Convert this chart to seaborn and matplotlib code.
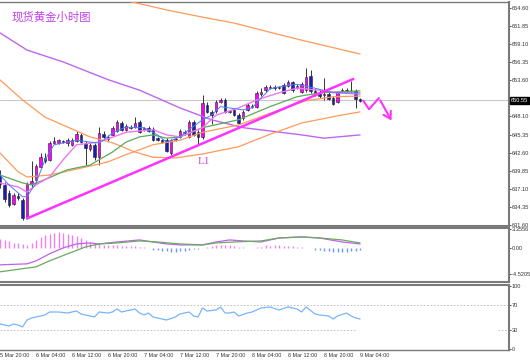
import numpy as np
import matplotlib
matplotlib.use("Agg")
import matplotlib.pyplot as plt
import matplotlib.transforms as mtransforms
import seaborn as sns

sns.set_style("white")
plt.rcParams['font.family'] = ['Noto Sans CJK SC', 'DejaVu Sans']

# hourly bars, 5 Mar 20:00 .. 9 Mar 04:00 (bar 0 .. 80)
opens = [639.1, 637.7, 636.5, 634.8, 636.0, 635.4, 632.7, 637.9, 638.5, 640.4,
         641.8, 641.5, 644.1, 644.1, 644.4, 644.0, 643.8, 644.4, 645.3, 644.1,
         643.2, 643.8, 641.9, 645.4, 645.0, 645.3, 645.9, 647.1, 646.1, 646.4,
         646.5, 647.3, 646.1, 646.4, 646.2, 644.8, 644.5, 644.5, 642.6, 644.5,
         645.0, 645.8, 645.0, 647.3, 645.8, 645.0, 649.9, 648.8, 648.9, 650.3,
         650.6, 648.8, 649.1, 648.3, 647.9, 649.1, 649.5, 649.5, 651.5, 652.1,
         652.4, 652.6, 652.4, 652.9, 652.7, 653.4, 652.4, 651.8, 652.1, 654.3,
         652.0, 651.5, 651.4, 651.5, 650.9, 650.3, 652.0, 652.1, 652.1, 652.0,
         650.8]
closes = [637.9, 635.6, 634.7, 636.2, 635.7, 632.7, 637.8, 638.3, 640.6, 641.9,
          641.3, 644.1, 644.4, 644.5, 644.2, 644.5, 644.5, 645.4, 644.2, 643.3,
          643.8, 641.9, 645.6, 645.0, 644.7, 646.4, 647.3, 646.1, 646.7, 646.5,
          647.1, 645.8, 646.4, 645.9, 644.5, 644.5, 644.2, 642.9, 644.5, 644.7,
          645.9, 645.6, 647.3, 645.3, 645.0, 650.2, 648.8, 648.3, 650.3, 650.6,
          648.8, 649.0, 648.3, 647.1, 648.8, 649.9, 649.7, 651.7, 651.8, 652.6,
          652.6, 652.4, 652.6, 651.7, 653.4, 652.1, 652.8, 653.0, 654.1, 652.0,
          651.5, 651.2, 651.5, 650.8, 650.0, 651.8, 652.1, 652.0, 652.1, 650.8,
          650.5]
highs = [640.0, 638.2, 636.9, 636.5, 636.5, 635.7, 638.1, 641.3, 640.9, 642.5,
         642.5, 644.4, 645.0, 644.7, 644.5, 644.8, 644.8, 645.9, 645.6, 644.4,
         644.1, 644.1, 646.5, 645.9, 645.3, 646.7, 647.6, 647.4, 647.0, 646.8,
         648.0, 647.6, 646.5, 646.7, 646.5, 645.0, 644.7, 644.8, 644.7, 645.0,
         646.2, 646.1, 647.6, 647.6, 646.1, 651.4, 650.3, 649.1, 650.6, 650.9,
         650.9, 649.1, 649.4, 648.6, 649.1, 650.2, 650.0, 652.0, 652.4, 652.9,
         652.9, 652.9, 652.7, 653.2, 653.7, 653.5, 653.0, 653.4, 655.5, 655.2,
         652.4, 652.1, 654.0, 651.8, 651.2, 652.0, 652.4, 652.4, 653.5, 652.3,
         650.9]
lows = [637.2, 635.1, 634.3, 634.7, 635.4, 632.4, 632.5, 637.4, 638.0, 640.3,
        641.0, 641.3, 643.9, 643.9, 644.1, 643.6, 643.6, 644.2, 644.1, 640.7,
        642.9, 641.5, 640.7, 644.8, 644.4, 645.1, 645.7, 645.9, 645.9, 646.2,
        646.4, 645.6, 645.9, 645.7, 644.4, 644.3, 644.1, 642.7, 642.3, 644.4,
        644.8, 645.3, 644.8, 645.1, 643.8, 644.7, 648.6, 646.9, 648.6, 650.2,
        648.6, 648.6, 648.2, 647.0, 647.6, 648.9, 649.4, 649.4, 651.2, 651.8,
        652.3, 652.1, 652.3, 651.5, 652.6, 651.8, 652.3, 651.7, 651.8, 651.7,
        651.2, 650.9, 650.6, 650.6, 649.9, 650.2, 651.8, 651.8, 651.8, 649.4,
        650.3]
last_price = 650.55

# moving averages (bar index, price)
ma_top_idx = [20, 29, 37, 45, 52, 60, 67, 80]
ma_top_val = [666.9, 665.56, 664.3, 663.2, 662.3, 660.9, 659.7, 657.6]
ma_purple_idx = [0, 6, 14, 24, 31, 40, 47, 54, 60, 67, 72, 80]
ma_purple_val = [660.8, 658.2, 656.4, 653.7, 652.1, 649.4, 647.6, 646.4, 645.9, 645.3, 644.8, 645.3]
ma_orange_idx = [0, 5, 10, 15, 20, 25, 30, 34, 39, 45, 53, 60, 67, 75, 80]
ma_orange_val = [653.66, 650.62, 648.0, 646.5, 645.0, 644.1, 642.7, 641.9, 641.8, 642.4, 643.5, 645.4, 647.1, 648.2, 648.8]
ma_mid_idx = [0, 4, 6, 11, 19, 24, 28, 34, 40, 45, 53, 60, 68, 74, 80]
ma_mid_val = [642.56, 639.7, 638.9, 639.2, 640.4, 641.2, 642.3, 643.8, 644.5, 645.7, 646.8, 648.6, 650.5, 651.1, 651.2]
ma_green_idx = [0, 5, 7, 11, 15, 20, 22, 25, 28, 31, 34, 37, 40, 45, 53, 60, 66, 71, 80]
ma_green_val = [639.2, 638.0, 637.7, 638.8, 640.0, 640.7, 641.5, 642.7, 644.2, 645.0, 645.3, 644.8, 645.0, 646.4, 647.6, 649.6, 651.1, 651.7, 652.0]
ma_violet_idx = [0, 4, 6, 8, 11, 14, 17, 22, 28, 34, 37, 40, 45, 48, 53, 57, 62, 66, 71, 75, 80]
ma_violet_val = [638.0, 637.4, 636.6, 637.7, 638.9, 641.5, 643.8, 644.2, 645.7, 646.1, 645.3, 645.0, 646.4, 648.3, 649.4, 650.6, 651.7, 652.4, 652.1, 651.7, 651.5]
ma_blue_idx = [0, 2, 5, 6, 8, 10, 12, 15, 17, 20, 22, 23, 25, 28, 30, 32, 35, 37, 40, 42,
               45, 47, 49, 51, 54, 56, 58, 60, 62, 66, 70, 74, 76, 80]
ma_blue_val = [639.2, 637.7, 635.9, 635.9, 638.0, 641.5, 643.8, 644.2, 644.5, 644.2,
               644.1, 644.5, 645.6, 646.5, 646.4, 646.4, 645.3, 644.2, 645.0, 646.1,
               647.6, 648.3, 649.6, 649.4, 649.1, 649.4, 650.9, 652.3, 652.6, 653.0,
               652.4, 651.7, 651.7, 651.7]

# hand drawn trend line L1 and forecast arrow
l1_x = [6, 78.5]
l1_y = [632.6, 653.8]
l1_label_pos = (45.3, 641.3)
arrow_x = [80.7, 82.0, 84.2, 87.3]
arrow_y = [650.5, 649.2, 650.9, 647.1]

# MACD
macd_hist = [1.5, 1.44, 1.26, 0.86, 0.86, 0.69, 0.57, 0.86, 1.32, 1.84,
             2.18, 2.41, 2.59, 2.70, 2.59, 2.47, 2.30, 2.01, 1.72, 1.32,
             1.03, 0.80, 0.69, 0.57, 0.57, 0.46, 0.46, 0.40, 0.40, 0.34,
             0.29, 0.23, 0.11, 0.02, -0.29, -0.34, -0.46, -0.57, -0.75, -0.69,
             -0.57, -0.46, -0.29, -0.17, -0.11, 0.03, 0.23, 0.40, 0.46, 0.52,
             0.57, 0.46, 0.29, 0.23, 0.10, 0.05, 0.02, 0.10, 0.20, 0.46,
             0.40, 0.46, 0.46, 0.40, 0.34, 0.29, 0.23, 0.11, 0.05, 0.0,
             -0.29, -0.40, -0.46, -0.57, -0.63, -0.75, -0.69, -0.63, -0.57, -0.52,
             -0.40]
macd_idx = [0, 6, 8, 11, 14, 17, 20, 22, 26, 31, 34, 37, 40, 45, 48, 51, 54, 58, 62, 67, 71, 76, 80]
macd_val = [-2.93, -2.76, -2.24, -1.03, 0.0, 0.69, 0.86, 0.69, 1.03, 1.38, 1.03, 0.69,
            0.52, 0.52, 1.03, 1.38, 1.21, 1.03, 1.72, 1.90, 1.72, 1.03, 0.69]
signal_idx = [0, 8, 11, 15, 19, 22, 26, 31, 35, 40, 45, 48, 52, 58, 62, 67, 71, 76, 80]
signal_val = [-4.14, -3.28, -2.24, -1.03, 0.17, 0.69, 0.86, 1.21, 1.03, 0.69, 0.52,
              0.86, 1.03, 1.21, 1.72, 1.90, 1.72, 1.38, 0.86]

# RSI
rsi_idx = [0, 2, 3, 4, 5, 6, 7, 9, 10, 11, 13, 15, 17, 18, 19, 21, 22, 24, 25, 26,
           27, 30, 31, 32, 33, 34, 37, 39, 40, 42, 43, 44, 45, 46, 48, 49, 50, 51, 52, 53,
           55, 56, 58, 60, 62, 64, 66, 67, 68, 70, 71, 73, 74, 75, 77, 78, 79, 80]
rsi_val = [39.7, 36.5, 39.7, 38.1, 34.9, 46.0, 49.2, 52.4, 54.0, 58.7,
           58.7, 57.1, 60.3, 55.6, 54.0, 50.8, 58.7, 57.1, 58.7, 63.5,
           58.7, 63.5, 57.1, 54.0, 57.1, 50.8, 46.0, 50.8, 55.6, 58.7,
           52.4, 50.8, 65.1, 60.3, 61.9, 66.7, 57.1, 57.1, 58.7, 52.4,
           57.1, 58.7, 65.1, 66.7, 61.9, 66.7, 63.5, 58.7, 66.7, 55.6,
           54.0, 52.4, 47.6, 52.4, 57.1, 52.4, 49.2, 47.6]

price_ticks = [664.60, 661.85, 659.10, 656.35, 653.60, 648.10, 645.35,
               642.60, 639.85, 637.10, 634.35, 631.60]
time_ticks = list(range(0, 81, 8))
time_labels = ['5 Mar 20:00', '6 Mar 04:00', '6 Mar 12:00', '6 Mar 20:00',
               '7 Mar 04:00', '7 Mar 12:00', '7 Mar 20:00', '8 Mar 04:00',
               '8 Mar 12:00', '8 Mar 20:00', '9 Mar 04:00']

XMIN, XMAX = 0.0, 113.1
frame = '#7a7a7a'
small = dict(family='Liberation Sans')

fig = plt.figure(figsize=(5.3, 3.6), dpi=100)
ax = fig.add_axes([0, 0.3722, 0.9604, 0.6222])
ax_m = fig.add_axes([0, 0.2167, 0.9604, 0.15])
ax_r = fig.add_axes([0, 0.0278, 0.9604, 0.1806])

def style(a):
    a.set_xlim(XMIN, XMAX)
    a.yaxis.tick_right()
    a.tick_params(axis='y', labelsize=4.1, length=1.5, pad=0.6, colors='#333333',
                  width=0.6, direction='out')
    for lab in a.get_yticklabels():
        lab.set_family('Liberation Sans')
    a.spines['left'].set_visible(False)
    for s in ('right', 'top', 'bottom'):
        a.spines[s].set_color(frame)
    a.spines['right'].set_linewidth(1.5)
    a.set_xlabel('')
    a.set_ylabel('')

# ---- main price panel ----
o = np.array(opens)
c = np.array(closes)
idx = np.arange(len(o))
up = c >= o
ax.axhline(last_price, color='#c8c8c8', lw=0.8, zorder=1)
ax.vlines(idx, lows, highs, color='#333333', lw=0.7, zorder=2)
body = np.maximum(np.abs(c - o), 0.08)
ax.bar(idx[up], body[up], bottom=o[up], width=0.62, color='#ff00ff',
       edgecolor='#222222', linewidth=0.4, zorder=2.5)
ax.bar(idx[~up], body[~up], bottom=c[~up], width=0.62, color='#1c1cb4',
       edgecolor='#222222', linewidth=0.4, zorder=2.5)

lines = [(ma_top_idx, ma_top_val, '#ff9a5a', 0.9),
         (ma_purple_idx, ma_purple_val, '#bf66f0', 1.0),
         (ma_orange_idx, ma_orange_val, '#ff9a5a', 0.9),
         (ma_mid_idx, ma_mid_val, '#ff9a5a', 0.9),
         (ma_green_idx, ma_green_val, '#5fa85a', 0.9),
         (ma_violet_idx, ma_violet_val, '#ee77ee', 1.0),
         (ma_blue_idx, ma_blue_val, '#4a7dff', 0.7)]
for xs, ys, col, lw in lines:
    sns.lineplot(x=xs, y=ys, ax=ax, color=col, linewidth=lw, zorder=3)

ax.plot(l1_x, l1_y, color='#ff33ff', lw=1.8, zorder=4, solid_capstyle='round')
ax.text(l1_label_pos[0], l1_label_pos[1], 'L1', color='#c84ad8', fontsize=8,
        family='Liberation Serif', ha='center', va='center')
ax.plot(arrow_x[:-1], arrow_y[:-1], color='#ff33ff', lw=1.5, zorder=4)
ax.annotate('', xy=(arrow_x[-1], arrow_y[-1]), xytext=(arrow_x[-2], arrow_y[-2]),
            arrowprops=dict(arrowstyle='->,head_length=0.5,head_width=0.3',
                            color='#ff33ff', lw=1.5), zorder=4)

ax.set_ylim(631.45, 665.5)
ax.set_yticks(price_ticks)
ax.set_yticklabels([f'{t:.2f}' for t in price_ticks])
ax.set_xticks([])
style(ax)
ax.spines['top'].set_linewidth(1.0)
ax.spines['bottom'].set_linewidth(1.5)
trans = mtransforms.blended_transform_factory(ax.transAxes, ax.transData)
ax.text(1.004, last_price, f'{last_price:.2f}', transform=trans, fontsize=4.1,
        color='white', ha='left', va='center', family='Liberation Sans',
        bbox=dict(boxstyle='square,pad=0.2', fc='black', ec='black'))

fig.text(12 / 530, 1 - 17 / 360, '现货黄金小时图', color='#c040ea',
         fontsize=8.2, va='center', ha='left')

# ---- MACD panel ----
hist = np.array(macd_hist)
pos = hist >= 0
ax_m.vlines(idx[pos], 0, hist[pos], color='#ee82ee', lw=1.0)
ax_m.vlines(idx[~pos], 0, hist[~pos], color='#7098f5', lw=1.0)
sns.lineplot(x=macd_idx, y=macd_val, ax=ax_m, color='#c060f0', linewidth=0.9)
sns.lineplot(x=signal_idx, y=signal_val, ax=ax_m, color='#6aaa5e', linewidth=0.9)
ax_m.set_ylim(-5.9, 3.45)
ax_m.set_yticks([3.3556, 0.0, -4.5205])
ax_m.set_yticklabels(['3.3556', '0.00', '-4.5205'])
ax_m.set_xticks([])
style(ax_m)
ax_m.spines['top'].set_linewidth(1.5)
ax_m.spines['bottom'].set_linewidth(1.5)

# ---- RSI panel ----
ax_r.axhline(70, color='#b8b8b8', lw=0.6, ls=(0, (2, 2)))
ax_r.hlines(30, XMIN, 79.1, color='#b8b8b8', lw=0.6, ls=(0, (2, 2)))
ax_r.hlines(30, 110.7, XMAX, color='#b8b8b8', lw=0.6, ls=(0, (2, 2)))
sns.lineplot(x=rsi_idx, y=rsi_val, ax=ax_r, color='#78b4ff', linewidth=0.9)
ax_r.set_ylim(-1.6, 101.6)
ax_r.set_yticks([100, 70, 30, 0])
style(ax_r)
ax_r.spines['top'].set_linewidth(1.5)
ax_r.spines['bottom'].set_linewidth(1.0)
ax_r.set_xticks(time_ticks)
ax_r.set_xticklabels(time_labels, fontsize=3.9, color='#333333', ha='left',
                     family='Liberation Sans')
ax_r.tick_params(axis='x', length=1.5, pad=1, width=0.6, colors='#333333')
ax_r.set_xlim(XMIN, XMAX)

fig.savefig('out.png', dpi=100, facecolor='white')
